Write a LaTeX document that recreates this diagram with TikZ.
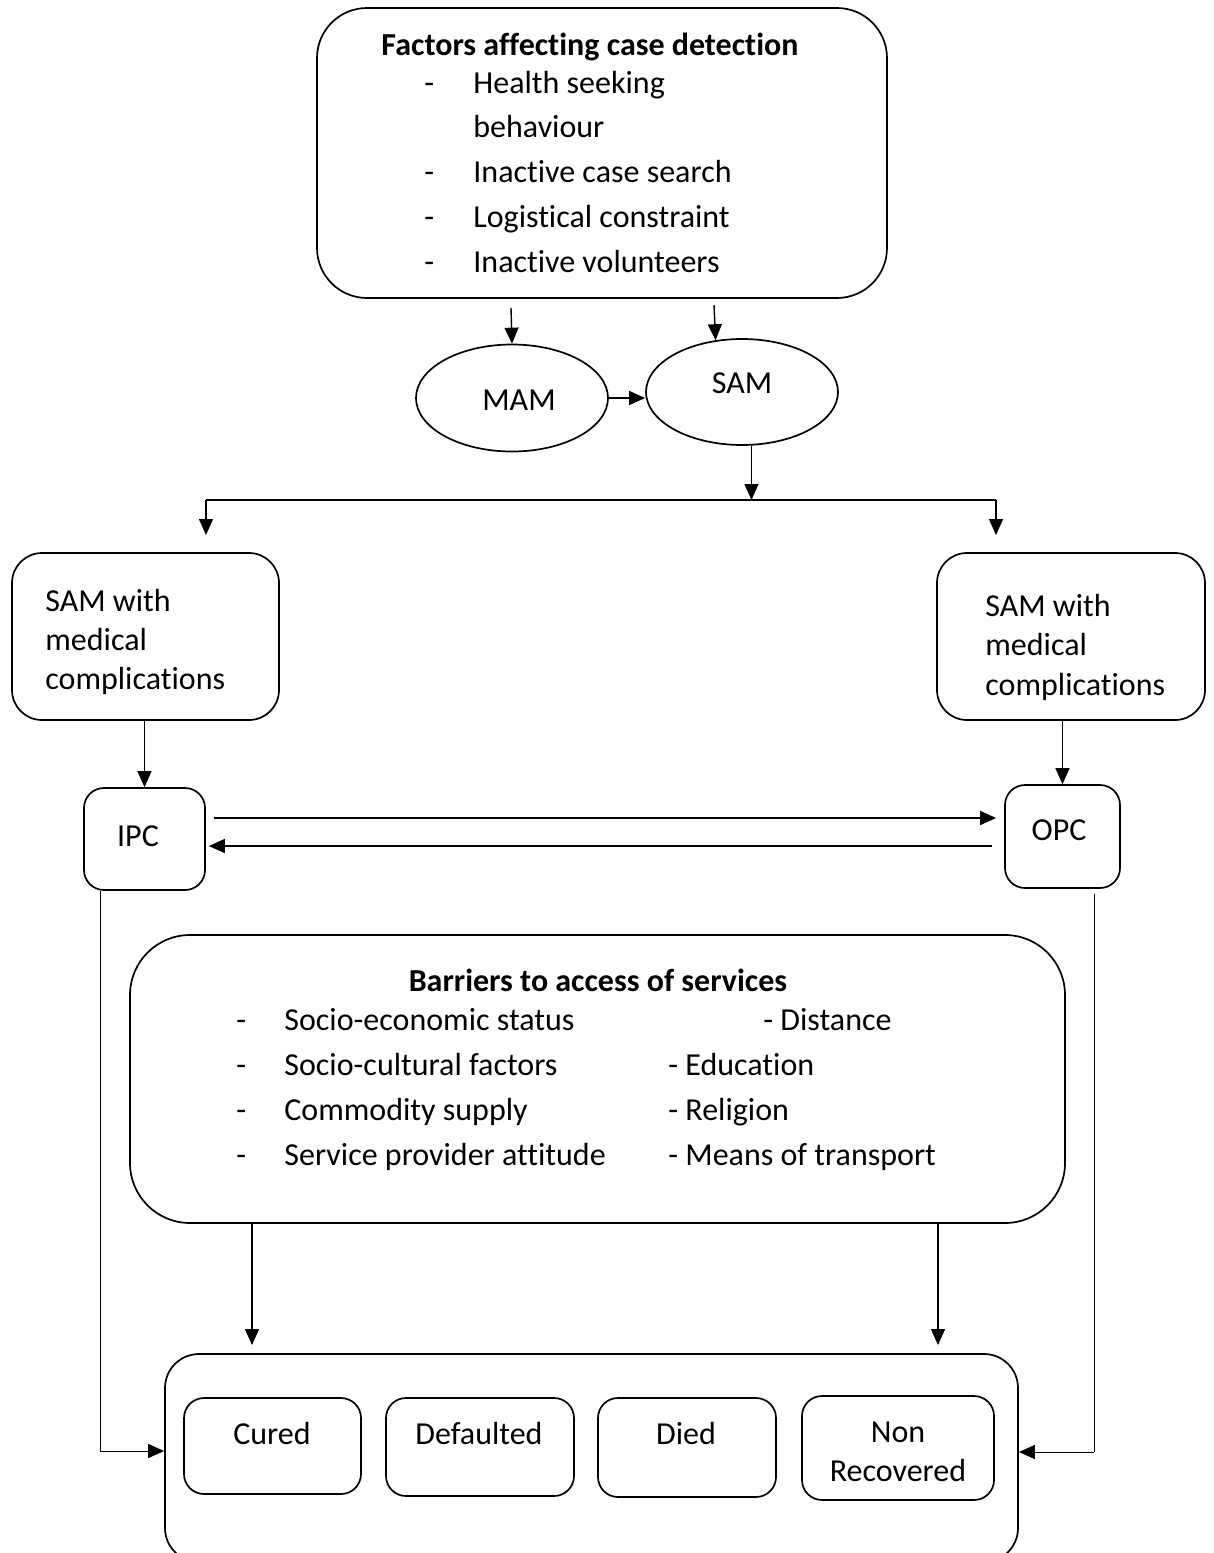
\documentclass[tikz,border=0pt]{standalone}
\usepackage{fontspec}
\setmainfont{Carlito}[Ligatures={NoCommon}]
\usetikzlibrary{arrows.meta,shapes.geometric,calc}
\begin{document}
\begin{tikzpicture}[x=0.5pt,y=-0.5pt,
  box/.style={draw, line width=0.85pt, rounded corners=#1, inner sep=0pt},
  box/.default=10pt,
  ell/.style={draw, ellipse, line width=0.85pt, inner sep=0pt},
  txt/.style={inner sep=0pt, font=\fontsize{16}{19}\selectfont},
  txtb/.style={inner sep=0pt, font=\fontsize{16}{19}\selectfont\bfseries},
  arr/.style={line width=0.7pt, -{Triangle[length=8pt,width=7pt]}},
  thinarr/.style={line width=0.5pt, -{Triangle[length=8pt,width=7pt]}},
  thinline/.style={line width=0.5pt},
  branch/.style={line width=1.1pt}
]
\useasboundingbox (0,0) rectangle (1214,1553);

% ---------- Factors box ----------
\node[box=25pt, minimum width=285pt, minimum height=145pt] (factors) at (602,153) {};
\node[txtb, anchor=base] (ftitle) at (590,55) {Factors affecting case detection};
\node[txt, anchor=base west] (fd1) at (424,93) {-};
\node[txt, anchor=base west] (fi1) at (473,93) {Health seeking};
\node[txt, anchor=base west] (fi1b) at (473,137) {behaviour};
\node[txt, anchor=base west] (fd2) at (424,182) {-};
\node[txt, anchor=base west] (fi2) at (473,182) {Inactive case search};
\node[txt, anchor=base west] (fd3) at (424,227) {-};
\node[txt, anchor=base west] (fi3) at (473,227) {Logistical constraint};
\node[txt, anchor=base west] (fd4) at (424,272) {-};
\node[txt, anchor=base west] (fi4) at (473,272) {Inactive volunteers};

% ---------- MAM / SAM ----------
\node[ell, minimum width=96pt, minimum height=53.5pt] (mam) at (512,398) {};
\node[txt] (mamt) at (519,400) {MAM};
\node[ell, minimum width=96pt, minimum height=53pt] (sam) at (742,392) {};
\node[txt] (samt) at (742,383) {SAM};

\coordinate (fa1) at (511,308);
\coordinate (fa2) at (714,305);
\draw[arr] (fa1) -- (mam.north);
\draw[arr] (fa2) -- (sam.117);
\draw[arr] (mam.east) -- (sam.west |- mam.east);

% ---------- branch ----------
\coordinate (brL) at (206,500);
\coordinate (brR) at (996,500);
\draw[arr] (sam.-80) -- (sam.-80 |- brL);
\draw[branch] (brL) -- (brR);
\draw[arr] (brL) -- ++(0,35);
\draw[arr] (brR) -- ++(0,35);

% ---------- SAM with complications boxes ----------
\node[box=15pt, minimum width=133.5pt, minimum height=83.5pt] (samL) at (145.5,636.5) {};
\node[txt, anchor=base west] (sl1) at (45,611) {SAM with};
\node[txt, anchor=base west] (sl2) at (45,650) {medical};
\node[txt, anchor=base west] (sl3) at (45,689) {complications};

\node[box=15pt, minimum width=134pt, minimum height=83.5pt] (samR) at (1071,636.5) {};
\node[txt, anchor=base west] (sr1) at (985,616) {SAM with};
\node[txt, anchor=base west] (sr2) at (985,655) {medical};
\node[txt, anchor=base west] (sr3) at (985,695) {complications};

% ---------- IPC / OPC ----------
\node[box=10pt, minimum width=60.5pt, minimum height=51pt] (ipc) at (144.5,839) {};
\node[txt] (ipct) at (138,836) {IPC};
\node[box=10pt, minimum width=57.5pt, minimum height=51.5pt] (opc) at (1062.5,836.5) {};
\node[txt] (opct) at (1059,830) {OPC};

\draw[arr] (samL.south -| ipc.north) -- (ipc.north);
\draw[arr] (opc.north |- samR.south) -- (opc.north);

\coordinate (f1) at (214,818);
\coordinate (f2) at (992,846);
\draw[arr, shorten >=4pt] (f1) -- (f1 -| opc.west);
\draw[arr, shorten >=1.5pt] (f2) -- (f2 -| ipc.east);

% ---------- Barriers box ----------
\node[box=30pt, minimum width=467.5pt, minimum height=144pt] (bar) at (597.5,1079) {};
\node[txtb, anchor=base] (btitle) at (598,991) {Barriers to access of services};
\node[txt, anchor=base west] (bd1) at (236,1030) {-};
\node[txt, anchor=base west] (bl1) at (284,1030) {Socio-economic status};
\node[txt, anchor=base west] (bd2) at (236,1075) {-};
\node[txt, anchor=base west] (bl2) at (284,1075) {Socio-cultural factors};
\node[txt, anchor=base west] (bd3) at (236,1120) {-};
\node[txt, anchor=base west] (bl3) at (284,1120) {Commodity supply};
\node[txt, anchor=base west] (bd4) at (236,1165) {-};
\node[txt, anchor=base west] (bl4) at (284,1165) {Service provider attitude};
\node[txt, anchor=base west] (br1) at (763,1030) {- Distance};
\node[txt, anchor=base west] (br2) at (668,1075) {- Education};
\node[txt, anchor=base west] (br3) at (668,1120) {- Religion};
\node[txt, anchor=base west] (br4) at (668,1165) {- Means of transport};

% ---------- Outcomes ----------
\node[box=17pt, minimum width=426.5pt, minimum height=104pt] (outer) at (591.5,1458) {};
\node[box=10pt, minimum width=88.5pt, minimum height=48pt] (cured) at (272.5,1446) {};
\node[txt, anchor=base] (curedt) at (272,1444) {Cured};
\node[box=10pt, minimum width=94pt, minimum height=49pt] (def) at (480,1447) {};
\node[txt, anchor=base] (deft) at (479,1444) {Defaulted};
\node[box=10pt, minimum width=89pt, minimum height=49.5pt] (died) at (687,1447.5) {};
\node[txt, anchor=base] (diedt) at (686,1444) {Died};
\node[box=10pt, minimum width=96pt, minimum height=52pt] (nonrec) at (898,1448) {};
\node[txt, anchor=base] (nrt1) at (898,1442) {Non};
\node[txt, anchor=base] (nrt2) at (898,1481) {Recovered};

\coordinate (b1) at (252,1345);
\coordinate (b2) at (938,1345);
\draw[arr] (bar.south -| b1) -- (b1);
\draw[arr] (bar.south -| b2) -- (b2);

\coordinate (ipcdrop) at (100,1451);
\coordinate (opcdrop) at (1094,1452);
\draw[thinline] (ipc.south -| ipcdrop) -- (ipcdrop);
\draw[thinarr] (ipcdrop) -- (ipcdrop -| outer.west);
\draw[thinline] ([yshift=-2.5pt]opc.south -| opcdrop) -- (opcdrop);
\draw[thinarr] (opcdrop) -- (opcdrop -| outer.east);
\end{tikzpicture}
\end{document}
